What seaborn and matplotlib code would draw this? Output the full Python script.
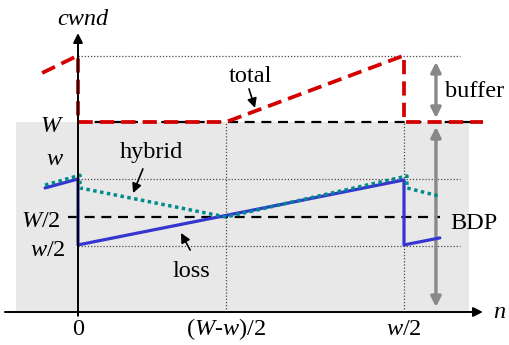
import matplotlib
matplotlib.use("Agg")
import matplotlib.pyplot as plt
import seaborn as sns
import pandas as pd

# ---- window levels (in units of W) and round positions ----
W = 1.0
w = 0.70
W_half = 0.50
w_half = 0.35
W_plus_buffer = 1.35

n_zero = 0.0
n_cross = 4.54      # (W-w)/2
n_period = 10.0     # w/2

# congestion-window traces
loss_n = [-1.01, 0.0, 0.0, 10.0, 10.0, 11.1]
loss_cwnd = [0.653, 0.70, 0.353, 0.695, 0.353, 0.39]

hybrid_n = [-1.01, 0.06, 0.06, 4.54, 10.09, 10.09, 11.07]
hybrid_cwnd = [0.668, 0.72, 0.653, 0.50, 0.716, 0.653, 0.61]

total_n = [-1.10, 0.0, 0.0, 4.54, 10.0, 10.0, 12.42]
total_cwnd = [1.258, 1.35, 1.0, 1.0, 1.35, 1.0, 1.0]

x_tick_pos = [n_zero, n_cross, n_period]
x_tick_labels = ["0", r"($W$-$w$)/2", r"$w$/2"]

sns.set_style("white")
plt.rcParams["font.family"] = ["Liberation Serif", "DejaVu Serif"]
plt.rcParams["mathtext.fontset"] = "custom"
plt.rcParams["mathtext.rm"] = "Liberation Serif"
plt.rcParams["mathtext.it"] = "Liberation Serif:italic"

FS = 17.5
PXX, PXY = 32.6, 190.0   # pixels per unit on each axis

fig = plt.figure(figsize=(5.09, 3.45), dpi=100)
ax = fig.add_axes([0, 0, 1, 1])
ax.set_xlim(-78 / PXX, (509 - 78) / PXX)
ax.set_ylim(-33 / PXY, 312 / PXY)
ax.axis("off")

# shaded pipe region (BDP + buffer below W)
ax.axvspan(-1.90, 11.99, ymin=(0 + 33 / PXY) / (345 / PXY), ymax=(W + 33 / PXY) / (345 / PXY),
           color="#e8e8e8", lw=0, zorder=0)

# thin dotted guide lines
guide = dict(color="#4a4a4a", lw=0.9, linestyle=(0, (1, 1.5)), zorder=1)
for lvl in (W_plus_buffer, w, w_half):
    ax.plot([n_zero, 11.72], [lvl, lvl], **guide)
for xv in (n_cross, n_period):
    ax.plot([xv, xv], [0, W], **guide)

# black dashed W and BDP levels
ax.plot([n_zero, 12.42], [W, W], color="black", lw=1.6, linestyle=(0, (4.5, 3)), zorder=2)
ax.plot([-0.31, 11.1], [W_half, W_half], color="black", lw=1.6, linestyle=(0, (4.5, 3)), zorder=2)

# traces
df_loss = pd.DataFrame({"n": loss_n, "cwnd": loss_cwnd})
df_hyb = pd.DataFrame({"n": hybrid_n, "cwnd": hybrid_cwnd})
df_tot = pd.DataFrame({"n": total_n, "cwnd": total_cwnd})

sns.lineplot(data=df_loss, x="n", y="cwnd", sort=False, estimator=None, ax=ax,
             color="#3535cf", lw=2.3, zorder=4)
sns.lineplot(data=df_hyb, x="n", y="cwnd", sort=False, estimator=None, ax=ax,
             color="#008b8b", lw=2.5, linestyle=(0, (1, 1)), zorder=5)
sns.lineplot(data=df_tot, x="n", y="cwnd", sort=False, estimator=None, ax=ax,
             color="#d40000", lw=2.7, linestyle=(0, (3.8, 1.9)), zorder=3)
ax.set_xlim(-78 / PXX, (509 - 78) / PXX)
ax.set_ylim(-33 / PXY, 312 / PXY)
ax.axis("off")

# axes with arrow heads
ax.annotate("", xy=(12.42, 0), xytext=(-2.24, 0),
            arrowprops=dict(arrowstyle="-|>", color="black", lw=1.4, mutation_scale=14,
                            shrinkA=0, shrinkB=0), zorder=6)
ax.annotate("", xy=(n_zero, 1.468), xytext=(n_zero, -0.02),
            arrowprops=dict(arrowstyle="-|>", color="black", lw=1.4, mutation_scale=14,
                            shrinkA=0, shrinkB=0), zorder=6)

# gray double arrows: buffer and BDP
gray = dict(arrowstyle="<|-|>", color="#888888", lw=2.4, mutation_scale=15, shrinkA=0, shrinkB=0)
ax.annotate("", xy=(10.98, 1.316), xytext=(10.98, 1.021), arrowprops=gray)
ax.annotate("", xy=(10.98, 0.974), xytext=(10.98, 0.026), arrowprops=gray)

# callout arrows
callout = dict(arrowstyle="-|>", color="black", lw=1.2, mutation_scale=14, shrinkA=0, shrinkB=0)
ax.annotate("", xy=(5.43, 1.074), xytext=(5.245, 1.174), arrowprops=callout)
ax.annotate("", xy=(1.69, 0.626), xytext=(1.99, 0.753), arrowprops=callout)
ax.annotate("", xy=(3.16, 0.416), xytext=(3.44, 0.326), arrowprops=callout)

# texts
txt = dict(fontsize=FS, ha="center", va="baseline", color="black")
ax.text(0.153, 1.511, "cwnd", style="italic", **txt)
ax.text(12.94, -0.0316, r"$n$", **txt)
ax.text(-0.80, 0.947, r"$W$", **txt)
ax.text(-0.71, 0.774, r"$w$", **txt)
ax.text(-1.13, 0.447, r"$W$/2", **txt)
ax.text(-0.92, 0.295, r"$w$/2", **txt)
for xp, lab in zip(x_tick_pos, x_tick_labels):
    ax.text(xp, -0.121, lab, **txt)
ax.text(5.28, 1.2105, "total", **txt)
ax.text(12.15, 1.1316, "buffer", **txt)
ax.text(12.15, 0.437, "BDP", **txt)
ax.text(2.24, 0.81, "hybrid", **txt)
ax.text(3.47, 0.184, "loss", **txt)

fig.savefig("out.png", dpi=100)
